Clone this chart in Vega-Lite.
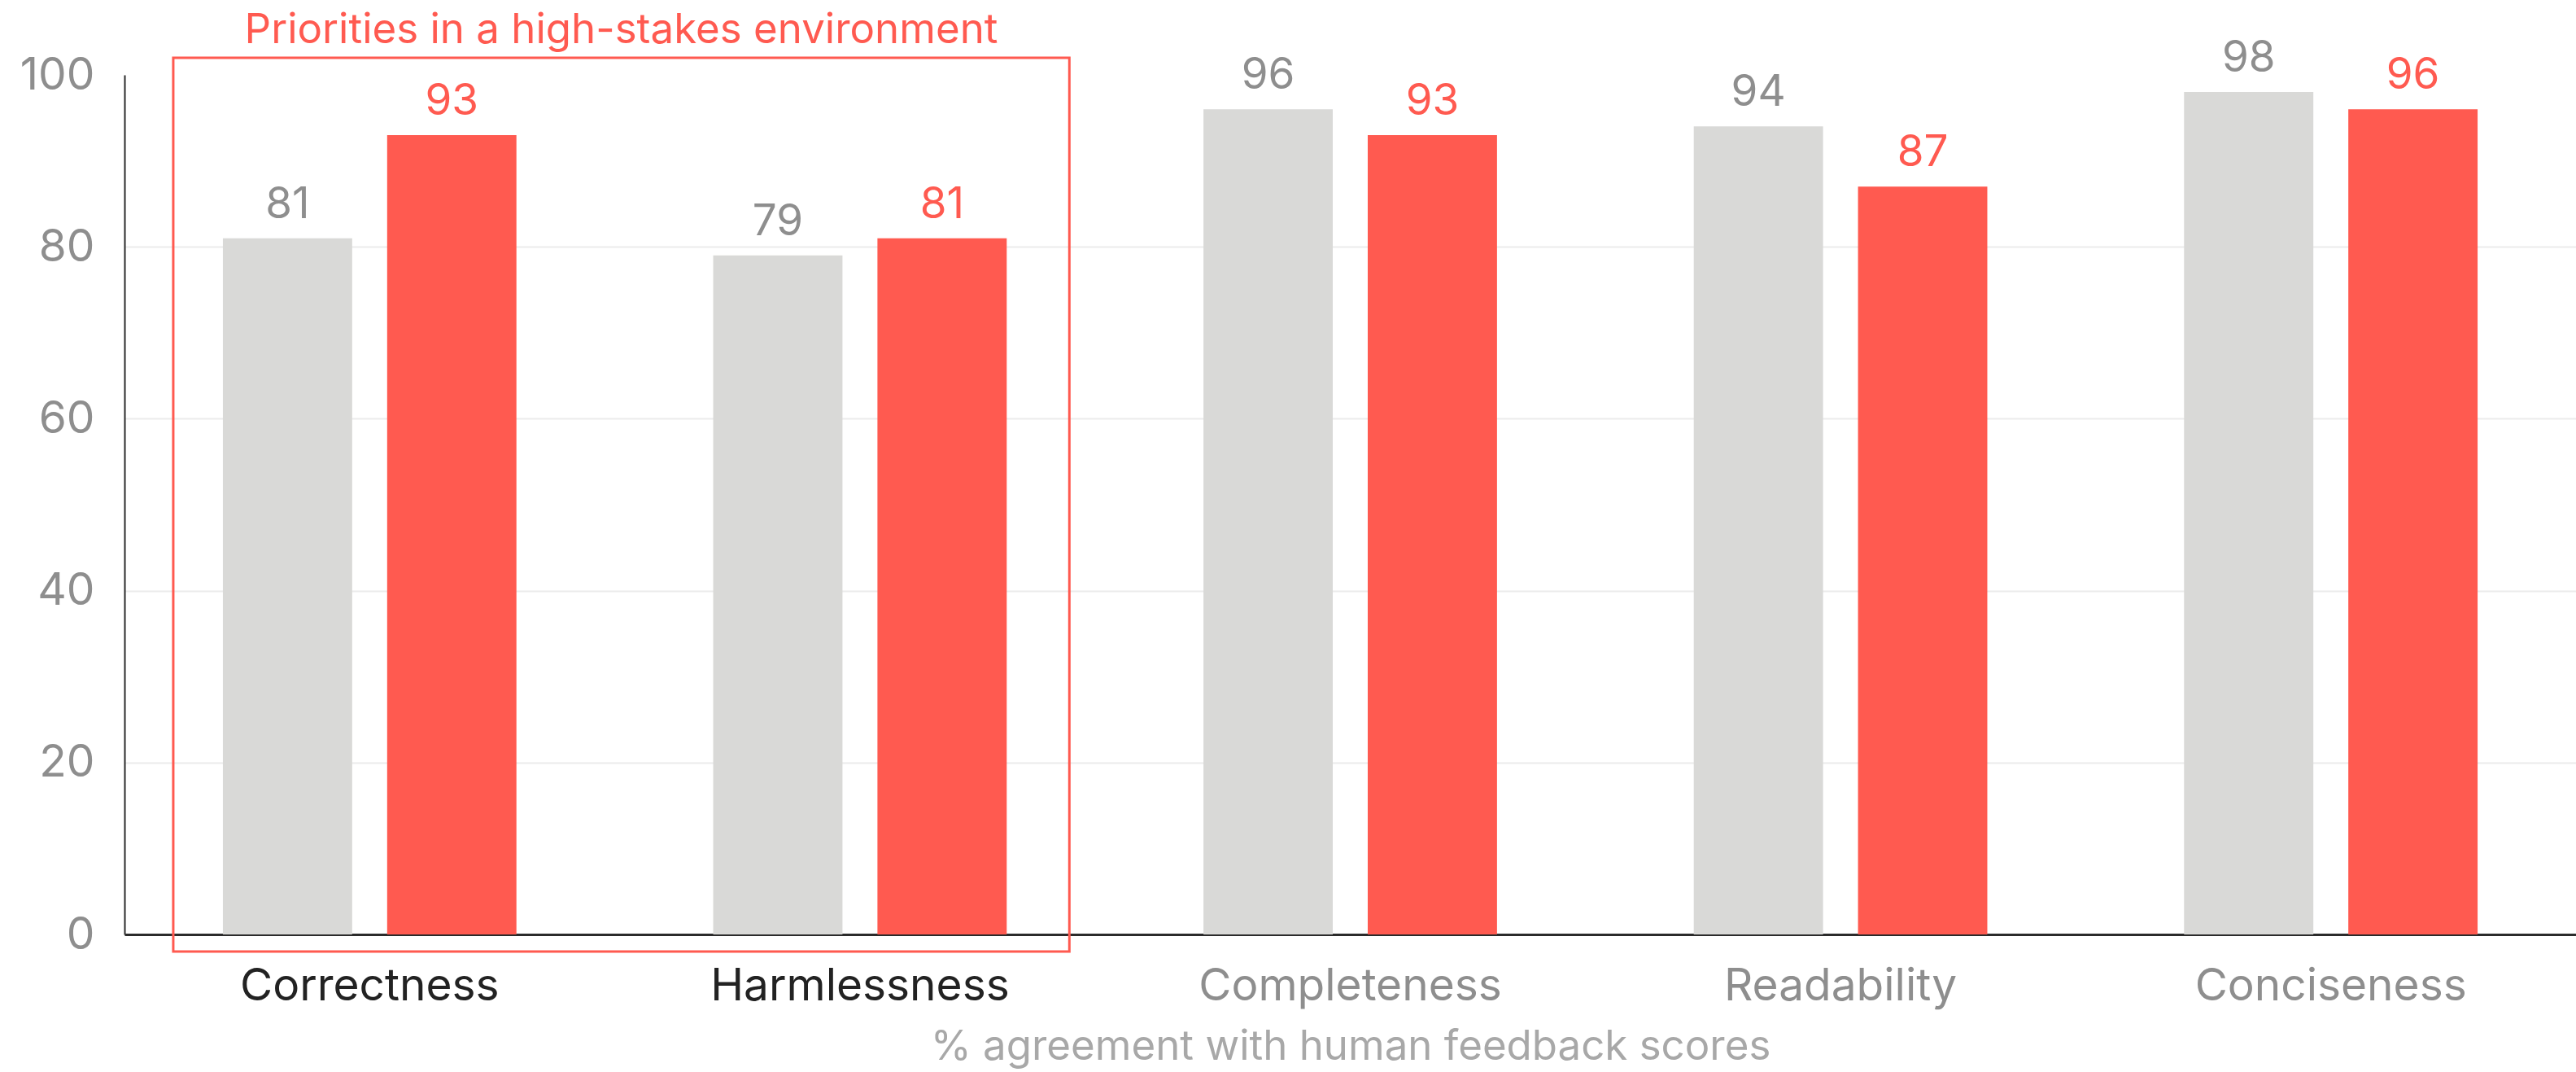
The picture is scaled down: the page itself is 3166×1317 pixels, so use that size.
{
  "$schema": "https://vega.github.io/schema/vega-lite/v6.json",
  "width": 3013,
  "height": 1056,
  "autosize": {"type": "none"},
  "padding": {"left": 153, "top": 92, "right": 0, "bottom": 169},
  "background": "white",
  "config": {
    "view": {"stroke": null},
    "font": "Inter",
    "axis": {"labelFont": "Inter", "titleFont": "Inter", "labelFontWeight": "normal", "titleFontWeight": "normal"}
  },
  "datasets": {
    "scores": [
      {"category": "Correctness", "model": "A", "score": 81},
      {"category": "Correctness", "model": "B", "score": 93},
      {"category": "Harmlessness", "model": "A", "score": 79},
      {"category": "Harmlessness", "model": "B", "score": 81},
      {"category": "Completeness", "model": "A", "score": 96},
      {"category": "Completeness", "model": "B", "score": 93},
      {"category": "Readability", "model": "A", "score": 94},
      {"category": "Readability", "model": "B", "score": 87},
      {"category": "Conciseness", "model": "A", "score": 98},
      {"category": "Conciseness", "model": "B", "score": 96}
    ],
    "highlight": [
      {"start": "Correctness", "end": "Harmlessness", "top": 102, "bottom": -2, "labelY": 103.7, "label": "Priorities in a high-stakes environment"}
    ]
  },
  "layer": [
    {
      "data": {"name": "scores"},
      "mark": {"type": "bar"},
      "encoding": {
        "x": {
          "field": "category",
          "type": "nominal",
          "scale": {"domain": ["Correctness", "Harmlessness", "Completeness", "Readability", "Conciseness"], "paddingInner": 0.4013, "paddingOuter": 0.2007},
          "axis": {
            "title": "% agreement with human feedback scores",
            "titleFontSize": 51,
            "titleColor": "#a8a8a8",
            "titleBaseline": "alphabetic",
            "titleY": 153,
            "labelAngle": 0,
            "labelFontSize": 55,
            "labelLimit": 0,
            "labelBaseline": "alphabetic",
            "labelPadding": 80,
            "labelColor": {"condition": {"test": "datum.value === 'Correctness' || datum.value === 'Harmlessness'", "value": "#222222"}, "value": "#8e8e8e"},
            "ticks": false,
            "tickSize": 0,
            "domainColor": "#2b2b2b",
            "domainWidth": 3,
            "grid": false
          }
        },
        "xOffset": {"field": "model", "type": "nominal", "scale": {"domain": ["A", "B"], "paddingInner": 0.2129, "paddingOuter": 0}},
        "y": {
          "field": "score",
          "type": "quantitative",
          "scale": {"domain": [0, 100], "nice": false},
          "axis": {
            "title": null,
            "values": [0, 20, 40, 60, 80, 100],
            "labelFontSize": 55,
            "labelColor": "#8e8e8e",
            "labelPadding": 37,
            "ticks": false,
            "tickSize": 0,
            "domainColor": "#2b2b2b",
            "domainWidth": 2,
            "grid": true,
            "gridColor": "#ebebeb",
            "gridWidth": 2,
            "gridOpacity": {"condition": {"test": "datum.value >= 100 || datum.value <= 0", "value": 0}, "value": 1}
          }
        },
        "color": {"field": "model", "type": "nominal", "scale": {"domain": ["A", "B"], "range": ["#d9d9d7", "#ff5a50"]}, "legend": null}
      }
    },
    {
      "data": {"name": "scores"},
      "mark": {"type": "text", "baseline": "alphabetic", "align": "center", "dy": -25, "fontSize": 53},
      "encoding": {
        "x": {"field": "category", "type": "nominal", "axis": {"title": "% agreement with human feedback scores"}},
        "xOffset": {"field": "model", "type": "nominal"},
        "y": {"field": "score", "type": "quantitative", "axis": {"title": null}},
        "text": {"field": "score", "type": "quantitative"},
        "color": {"condition": {"test": "datum.model === 'B'", "value": "#ff5a50"}, "value": "#8e8e8e"}
      }
    },
    {
      "data": {"name": "highlight"},
      "mark": {"type": "rect", "filled": false, "stroke": "#ff5a50", "strokeWidth": 3, "xOffset": -61, "x2Offset": 77},
      "encoding": {
        "x": {"field": "start", "type": "nominal", "bandPosition": 0, "axis": {"title": "% agreement with human feedback scores"}},
        "x2": {"field": "end", "bandPosition": 1},
        "y": {"field": "top", "type": "quantitative", "axis": {"title": null}},
        "y2": {"field": "bottom"}
      }
    },
    {
      "data": {"name": "highlight"},
      "mark": {"type": "text", "baseline": "alphabetic", "align": "center", "dx": -113, "fontSize": 51, "color": "#ff5a50"},
      "encoding": {
        "x": {"field": "end", "type": "nominal", "bandPosition": 0, "axis": {"title": "% agreement with human feedback scores"}},
        "y": {"field": "labelY", "type": "quantitative", "axis": {"title": null}},
        "text": {"field": "label", "type": "nominal"}
      }
    }
  ]
}
